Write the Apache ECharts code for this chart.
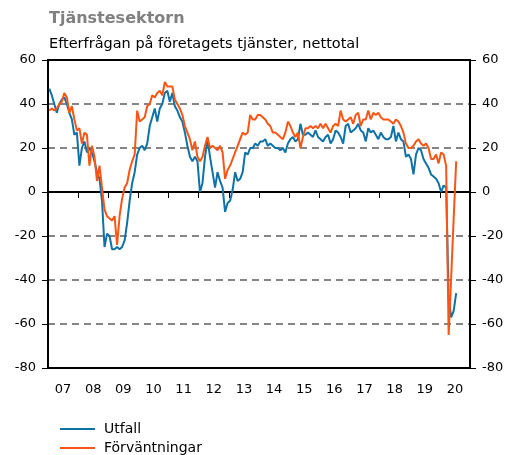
<!DOCTYPE html>
<html>
<head>
<meta charset="utf-8">
<script src="https://cdn.jsdelivr.net/npm/echarts@6/dist/echarts.min.js"></script>
<style>
  html, body { margin: 0; padding: 0; background: #fff; }
  #chart { width: 508px; height: 455px; }
</style>
</head>
<body>
<div id="chart"></div>
<script>
// år på x-axeln
var years = ["07", "08", "09", "10", "11", "12", "13", "14", "15", "16", "17", "18", "19", "20"];
var yTicks = [-80, -60, -40, -20, 0, 20, 40, 60];

// månadsvärden, jan 2007 - jul 2020
var utfall = [
  47, 44, 40, 36, 40, 42, 43, 40, 36, 33, 26, 27,
  12, 20, 23, 18, 20, 18, 14, 9, 6, -4, -25, -19,
  -20, -26, -26, -25, -26, -25, -22, -14, -4, 4, 9, 17,
  20, 21, 19, 22, 30, 34, 38, 32, 38, 40, 45, 46,
  41, 45, 39, 37, 34, 32, 27, 21, 16, 14, 16, 14,
  0, 4, 16, 24, 16, 9, 2, 9, 5, 2, -9, -5,
  -4, 1, 9, 5, 6, 9, 18, 17, 20, 20, 22, 21,
  23, 23, 24, 21, 22, 21, 20, 20, 19, 20, 18, 22,
  24, 25, 23, 24, 31, 26, 26, 27, 26, 25, 28, 25,
  24, 23, 25, 26, 22, 24, 28, 27, 25, 22, 30, 31,
  27, 28, 29, 31, 28, 27, 23, 29, 27, 28, 26, 24,
  27, 25, 24, 24, 25, 30, 23, 27, 24, 23, 16, 17,
  15, 8, 17, 20, 19, 15, 13, 11, 8, 7, 6, 4,
  0, 3, 2, -48, -57, -54, -46
];

var forvantningar = [
  37, 38, 37, 38, 40, 41, 45, 43, 36, 39, 33, 28,
  29, 22, 27, 26, 12, 21, 16, 5, 12, 2, -8, -11,
  -12, -13, -11, -24, -11, -3, 2, 4, 10, 14, 17, 37,
  32, 33, 34, 39, 40, 44, 43, 45, 46, 44, 50, 48,
  48, 48, 42, 40, 38, 35, 30, 27, 24, 19, 23, 16,
  14, 16, 21, 25, 20, 21, 20, 19, 21, 18, 6, 10,
  12, 15, 18, 21, 24, 27, 26, 27, 35, 33, 33, 35,
  35, 34, 33, 31, 30, 27, 27, 26, 25, 24, 27, 32,
  30, 27, 25, 27, 20, 25, 29, 29, 30, 29, 30, 29,
  31, 29, 31, 29, 27, 30, 31, 30, 37, 33, 32, 33,
  34, 31, 35, 36, 30, 33, 33, 37, 33, 36, 35, 36,
  34, 33, 33, 33, 32, 31, 33, 32, 30, 27, 22, 20,
  20, 21, 23, 24, 22, 21, 22, 20, 15, 15, 17, 13,
  18, 17, 12, -65, -39, -12, 14
];

var font = "DejaVu Sans, Verdana, sans-serif";
var chart = echarts.init(document.getElementById("chart"));

// månad i placeras mitt i sin månad
function toPoints(arr) {
  return arr.map(function (v, i) { return [i + 0.5, v]; });
}

var yAxisBase = {
  type: "value",
  min: yTicks[0],
  max: yTicks[yTicks.length - 1],
  interval: 20,
  axisLine: { show: true, lineStyle: { color: "#000", width: 2 } },
  axisTick: { show: true, length: 6, lineStyle: { color: "#000", width: 1 } },
  axisLabel: { margin: 12, fontSize: 13, color: "#000", fontFamily: font },
};

chart.setOption({
  animation: false,
  backgroundColor: "#fff",
  title: [
    {
      text: "Tjänstesektorn",
      left: 44,
      top: 6,
      textStyle: { fontSize: 16, fontWeight: "bold", color: "#808080", fontFamily: font },
    },
    {
      text: "Efterfrågan på företagets tjänster, nettotal",
      left: 44,
      top: 32,
      textStyle: { fontSize: 14.5, fontWeight: "normal", color: "#000", fontFamily: font },
    },
  ],
  grid: {
    left: 48,
    right: 38,
    top: 60,
    bottom: 87,
    show: true,
    borderColor: "#000",
    borderWidth: 2,
  },
  legend: {
    data: ["Utfall", "Förväntningar"],
    orient: "vertical",
    left: 55,
    top: 416,
    height: 60,
    icon: "rect",
    itemWidth: 35,
    itemHeight: 2,
    itemGap: 3,
    textStyle: { fontSize: 14, color: "#000", fontFamily: font, lineHeight: 16, padding: [0, 0, 0, 4] },
  },
  xAxis: [
    { type: "value", min: 0, max: 168, show: false, position: "top" },
    {
      type: "category",
      data: years,
      position: "bottom",
      boundaryGap: true,
      axisLine: { show: true, lineStyle: { color: "#000", width: 2 } },
      axisTick: { show: true, length: 6, lineStyle: { color: "#000", width: 1 } },
      axisLabel: { margin: 15, fontSize: 13, color: "#000", fontFamily: font },
      splitLine: { show: false },
    },
  ],
  yAxis: [
    Object.assign({}, yAxisBase, {
      position: "left",
      splitLine: {
        show: true,
        showMinLine: false,
        showMaxLine: false,
        lineStyle: { color: "#858585", width: 2, type: [7, 5] },
      },
    }),
    Object.assign({}, yAxisBase, { position: "right", splitLine: { show: false } }),
    {
      // heldragen nollinje
      type: "value",
      min: -80,
      max: 60,
      interval: 80,
      position: "left",
      axisLine: { show: false },
      axisTick: { show: false },
      axisLabel: { show: false },
      splitLine: {
        show: true,
        showMinLine: false,
        showMaxLine: false,
        lineStyle: { color: "#858585", width: 2, type: "solid" },
      },
    },
  ],
  series: [
    {
      name: "Utfall",
      type: "line",
      xAxisIndex: 0,
      yAxisIndex: 0,
      symbol: "none",
      color: "#0e72a6",
      lineStyle: { width: 2, color: "#0e72a6" },
      data: toPoints(utfall),
    },
    {
      name: "Förväntningar",
      type: "line",
      xAxisIndex: 0,
      yAxisIndex: 0,
      symbol: "none",
      color: "#fa5514",
      lineStyle: { width: 2, color: "#fa5514" },
      data: toPoints(forvantningar),
    },
  ],
});
</script>
</body>
</html>
